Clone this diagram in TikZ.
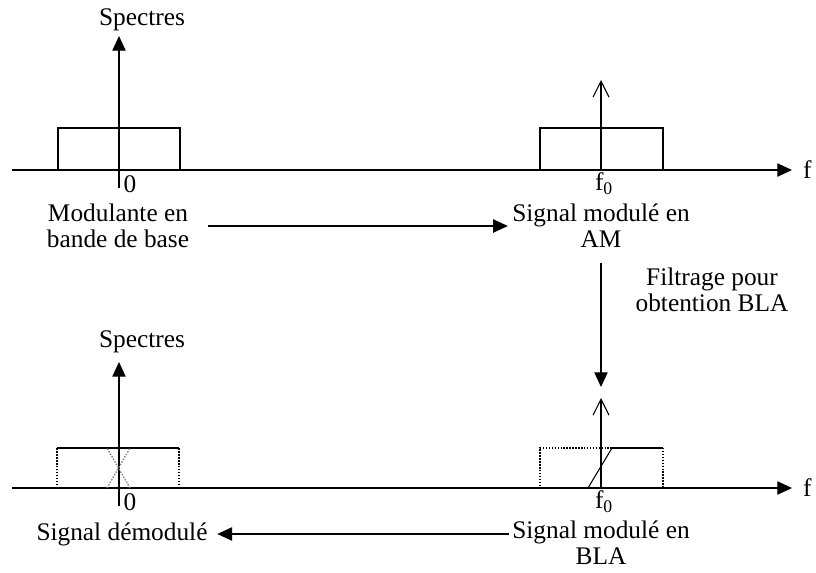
\documentclass[tikz,border=0pt]{standalone}
\usepackage{fontspec}
\setmainfont{Liberation Serif}
\usetikzlibrary{arrows.meta, positioning, calc}

\begin{document}
\begin{tikzpicture}[x=0.75pt, y=-0.75pt, line width=0.8pt,
    lbl/.style={align=center, inner sep=0pt, font=\fontsize{19}{19.5}\selectfont},
    fleche/.style={-{Triangle[length=11pt,width=10pt]}},
    porteuse/.style={-{Straight Barb[length=12pt,width=12pt]}},
    pointille/.style={dash pattern=on 1.1pt off 1.1pt, line width=1pt}]
    \useasboundingbox (0,0) rectangle (816,572);

    \def\ytop{170}
    \def\ybot{488}
    \def\xzero{119}
    \def\xfo{601}

    % Axes
    \draw[fleche] (12,\ytop) -- (792,\ytop) node[lbl,right=8pt] (ft) {f};
    \draw[fleche] (12,\ybot) -- (792,\ybot) node[lbl,right=8pt] (fb) {f};

    \node[lbl] (spt) at (142,20) {Spectres};
    \node[lbl] (spb) at (142,342) {Spectres};
    \coordinate (topt) at (\xzero,36);
    \coordinate (topb) at (\xzero,362);
    \draw[fleche] (\xzero,188) -- (topt);
    \draw[fleche] (\xzero,506) -- (topb);

    \node[lbl] (zt) at (130,184) {0};
    \node[lbl] (zb) at (130,502) {0};
    \node[lbl] (fot) at (604,184) {f\textsubscript{0}};
    \node[lbl] (fob) at (604,502) {f\textsubscript{0}};

    % Spectres du haut
    \draw (58,128) rectangle (180,\ytop);
    \draw (540,128) rectangle (663,\ytop);
    \draw[porteuse] (\xfo,\ytop) -- (\xfo,80);

    % Spectres du bas
    \draw (57,448) -- (179,448);
    \draw[pointille] (57,\ybot) -- (57,448);
    \draw[pointille] (179,\ybot) -- (179,448);
    \draw[pointille, gray] (107,\ybot) -- (130,448);
    \draw[pointille, gray] (130,\ybot) -- (107,448);

    \draw[pointille] (588,\ybot) -- (540,\ybot) -- (540,448) -- (612,448);
    \draw (612,448) -- (663,448);
    \draw[pointille] (663,448) -- (663,\ybot);
    \draw (588,\ybot) -- (612,448);
    \draw[porteuse] (\xfo,\ybot) -- (\xfo,398);

    % Legendes
    \node[lbl] (mod) at (118,226) {Modulante en\\bande de base};
    \node[lbl] (am) at (601,226) {Signal modulé en\\AM};
    \node[lbl] (filt) at (712,290) {Filtrage pour\\obtention BLA};
    \node[lbl] (demod) at (122,534) {Signal démodulé};
    \node[lbl] (bla) at (601,543) {Signal modulé en\\BLA};
    \coordinate (filtfin) at (\xfo,387);

    \draw[fleche, shorten <=14pt, shorten >=3pt] (mod.east) -- (am.west);
    \draw[fleche, shorten <=11pt] (am.south) -- (filtfin);
    \draw[fleche, shorten <=2pt, shorten >=7pt] (bla.west |- demod.east) -- (demod.east);
\end{tikzpicture}
\end{document}
